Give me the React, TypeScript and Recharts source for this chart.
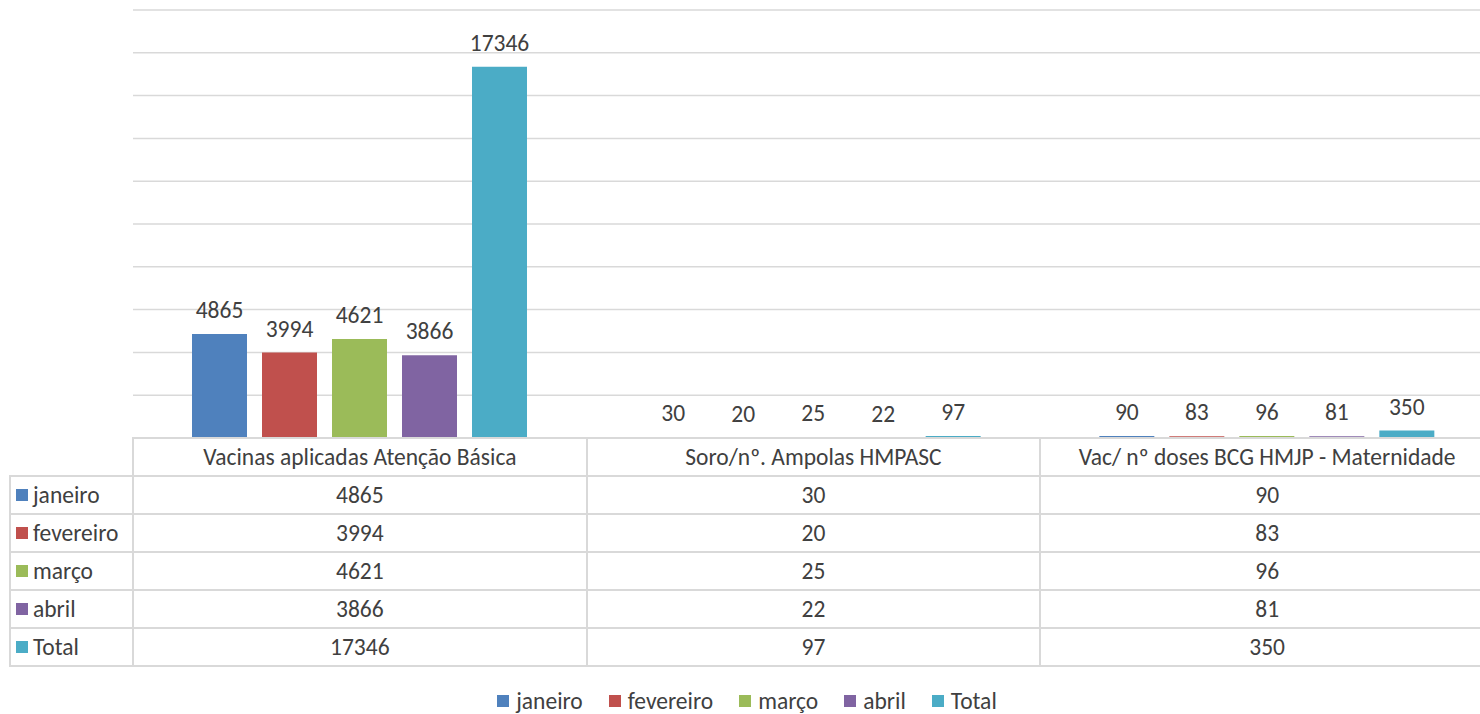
import { Bar, BarChart, CartesianGrid, LabelList, XAxis, YAxis } from "recharts";

const categories = [
  "Vacinas aplicadas Atenção Básica",
  "Soro/nº. Ampolas HMPASC",
  "Vac/ nº doses BCG HMJP - Maternidade",
];
const janeiro = [4865, 30, 90];
const fevereiro = [3994, 20, 83];
const marco = [4621, 25, 96];
const abril = [3866, 22, 81];
const total = [17346, 97, 350];
const yTicks = [0, 2000, 4000, 6000, 8000, 10000, 12000, 14000, 16000, 18000, 20000];

const series = [
  { key: "janeiro", name: "janeiro", values: janeiro, color: "#4f81bd" },
  { key: "fevereiro", name: "fevereiro", values: fevereiro, color: "#c0504d" },
  { key: "marco", name: "março", values: marco, color: "#9bbb59" },
  { key: "abril", name: "abril", values: abril, color: "#8064a2" },
  { key: "total", name: "Total", values: total, color: "#4bacc6" },
];

const FONT = "Carlito, Calibri, Lato, sans-serif";
const FONT_SIZE = 23.5;
const TEXT = "#404040";
const GRID = "#d9d9d9";

// chart geometry (the plot runs a little past the right edge of the picture, like the original)
const W = 1494;
const H = 714;
const PLOT_LEFT = 133;
const PLOT_TOP = 10;
const PLOT_BOTTOM = 438;
const ROW_H = 38;
const LABEL_LEFT = 10;
const COL_W = (W - PLOT_LEFT) / categories.length;

function Cell({ x, y, w, h, children, align = "center" }: { x: number; y: number; w: number; h: number; children?: React.ReactNode; align?: string }) {
  return (
    <div
      style={{
        position: "absolute",
        left: x - 1,
        top: y - 1,
        width: w + 2,
        height: h + 2,
        boxSizing: "border-box",
        border: `2px solid ${GRID}`,
        display: "flex",
        alignItems: "center",
        justifyContent: align,
        paddingLeft: align === "flex-start" ? 5 : 0,
        whiteSpace: "nowrap",
      }}
    >
      {children}
    </div>
  );
}

function Swatch({ color, gap = 5 }: { color: string; gap?: number }) {
  return <span style={{ display: "inline-block", flex: "none", width: 12, height: 12, background: color, marginRight: gap }} />;
}

export default function App() {
  const data = categories.map((category, i) => {
    const row: Record<string, string | number> = { category };
    series.forEach((s) => (row[s.key] = s.values[i]));
    return row;
  });

  return (
    <div
      style={{
        position: "absolute",
        left: 0,
        top: 0,
        width: 1480,
        height: H,
        overflow: "hidden",
        background: "#fff",
        fontFamily: FONT,
        fontSize: FONT_SIZE,
        lineHeight: 1.2,
        color: TEXT,
      }}
    >
      <BarChart
        width={W}
        height={H}
        data={data}
        margin={{ top: PLOT_TOP, right: 0, bottom: H - PLOT_BOTTOM, left: PLOT_LEFT }}
        barGap={15}
        barSize={55}
      >
        <CartesianGrid vertical={false} stroke={GRID} strokeWidth={1.5} />
        <XAxis dataKey="category" hide />
        <YAxis hide domain={[0, 20000]} ticks={yTicks} />
        {series.map((s) => (
          <Bar key={s.key} dataKey={s.key} name={s.name} fill={s.color} isAnimationActive={false}>
            <LabelList dataKey={s.key} position="top" offset={16} fill={TEXT} fontSize={FONT_SIZE} fontFamily={FONT} />
          </Bar>
        ))}
      </BarChart>

      {categories.map((c, i) => (
        <Cell key={c} x={PLOT_LEFT + i * COL_W} y={PLOT_BOTTOM} w={COL_W} h={ROW_H}>
          {c}
        </Cell>
      ))}
      {series.map((s, r) => (
        <div key={s.key}>
          <Cell x={LABEL_LEFT} y={PLOT_BOTTOM + (r + 1) * ROW_H} w={PLOT_LEFT - LABEL_LEFT} h={ROW_H} align="flex-start">
            <Swatch color={s.color} />
            {s.name}
          </Cell>
          {s.values.map((v, i) => (
            <Cell key={i} x={PLOT_LEFT + i * COL_W} y={PLOT_BOTTOM + (r + 1) * ROW_H} w={COL_W} h={ROW_H}>
              {v}
            </Cell>
          ))}
        </div>
      ))}

      <div
        style={{
          position: "absolute",
          left: 0,
          width: W,
          top: 688,
          height: 26,
          lineHeight: "26px",
          display: "flex",
          justifyContent: "center",
          alignItems: "center",
          gap: 26,
          whiteSpace: "nowrap",
        }}
      >
        {series.map((s) => (
          <span key={s.key} style={{ display: "flex", alignItems: "center" }}>
            <Swatch color={s.color} gap={7} />
            {s.name}
          </span>
        ))}
      </div>
    </div>
  );
}
